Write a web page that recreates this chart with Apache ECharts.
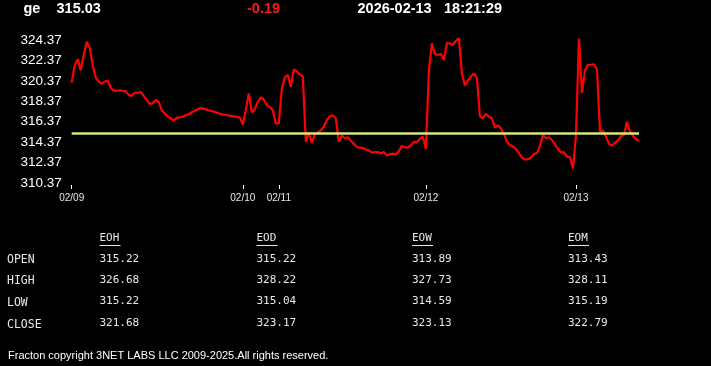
<!DOCTYPE html>
<html><head><meta charset="utf-8">
<script src="https://cdn.jsdelivr.net/npm/echarts@6/dist/echarts.min.js"></script>
<style>html,body{margin:0;padding:0;background:#000;}#c{width:711px;height:366px;}</style>
</head><body><div id="c"></div>
<script>
const symbol = 'ge';
const lastPrice = '315.03';
const change = '-0.19';
const dateStr = '2026-02-13';
const timeStr = '18:21:29';
const prevClose = 315.22;

const prices = [
320.2,321.9,322.5,321.4,322.9,324.2,323.6,321.9,320.7,320.3,
320.1,320.3,320.4,319.7,319.4,319.4,319.45,319.4,319.35,319.0,
318.9,319.2,319.2,319.3,318.9,318.5,318.1,318.2,318.5,318.3,
317.5,317.2,316.85,316.7,316.5,316.75,316.8,316.85,317.0,317.1,
317.3,317.45,317.6,317.7,317.65,317.55,317.45,317.4,317.3,317.2,
317.1,317.05,317.0,316.95,316.9,316.85,316.8,316.1,317.5,319.15,
317.3,317.6,318.3,318.75,318.55,318.0,317.8,317.5,316.2,316.2,
319.6,320.7,320.95,319.8,321.5,321.3,321.0,320.8,314.4,315.3,
314.3,315.15,315.35,315.5,315.9,316.54,316.9,317.0,316.7,314.4,
315.0,314.75,314.85,314.5,314.2,313.9,313.8,313.8,313.65,313.55,
313.35,313.4,313.4,313.25,313.4,313.05,313.2,313.25,313.15,313.5,
314.0,313.85,313.85,314.05,314.4,314.35,314.7,314.9,313.7,321.4,
324.05,323.0,322.9,323.0,322.4,324.1,324.0,323.9,324.3,324.55,
321.1,319.9,320.4,320.8,321.1,320.65,316.9,316.7,317.15,316.85,
316.7,315.8,316.0,315.7,315.2,314.4,314.1,313.95,313.7,313.3,
312.85,312.65,312.7,312.85,313.2,313.3,314.0,315.07,314.75,314.85,
314.58,314.15,313.7,313.35,313.4,312.95,312.9,311.8,315.0,324.5,
319.2,321.4,321.95,321.95,322.0,321.5,315.4,315.5,314.9,314.2,
314.05,314.3,314.55,314.95,315.1,316.37,315.4,315.0,314.65,314.5
];
const tickIndex = [0, 57, 69, 118, 168];
const tickLabels = ['02/09', '02/10', '02/11', '02/12', '02/13'];
const yTicks = [310.37, 312.37, 314.37, 316.37, 318.37, 320.37, 322.37, 324.37];

const tableCols = ['EOH', 'EOD', 'EOW', 'EOM'];
const rowLabels = ['OPEN', 'HIGH', 'LOW', 'CLOSE'];
const eohValues = [315.22, 326.68, 315.22, 321.68];
const eodValues = [315.22, 328.22, 315.04, 323.17];
const eowValues = [313.89, 327.73, 314.59, 323.13];
const eomValues = [313.43, 328.11, 315.19, 322.79];
const footerText = 'Fracton copyright 3NET LABS LLC 2009-2025.All rights reserved.';

const chart = echarts.init(document.getElementById('c'), null, {renderer: 'canvas'});
const showTick = (idx) => tickIndex.indexOf(idx) >= 0;

const headFont = 'bold 14.5px "Liberation Sans", Arial, sans-serif';
const monoFont = '11px "DejaVu Sans Mono", monospace';
const labelFont = '11.5px "DejaVu Sans Mono", monospace';
const graphics = [
  {type:'text', x:23.5, y:9, style:{text:symbol, fill:'#fff', font:headFont, verticalAlign:'middle'}},
  {type:'text', x:56.5, y:9, style:{text:lastPrice, fill:'#fff', font:headFont, verticalAlign:'middle'}},
  {type:'text', x:247, y:9, style:{text:change, fill:'#ff1a1a', font:headFont, verticalAlign:'middle'}},
  {type:'text', x:357.5, y:9, style:{text:dateStr, fill:'#fff', font:headFont, verticalAlign:'middle'}},
  {type:'text', x:444, y:9, style:{text:timeStr, fill:'#fff', font:headFont, verticalAlign:'middle'}},
  {type:'text', x:8, y:355.5, style:{text:footerText, fill:'#fff', font:'11px "Liberation Sans", Arial, sans-serif', verticalAlign:'middle'}}
];
const colX = [99.5, 256.5, 412, 568];
const rowY = [260.5, 281.5, 303, 325];
const allVals = [eohValues, eodValues, eowValues, eomValues];
tableCols.forEach((c, ci) => {
  graphics.push({type:'text', x:colX[ci], y:238.5, style:{text:c, fill:'#e8e8e8', font:monoFont, verticalAlign:'middle'}});
  graphics.push({type:'line', shape:{x1:colX[ci], y1:245.5, x2:colX[ci]+21, y2:245.5}, style:{stroke:'#e8e8e8', lineWidth:1}});
  allVals[ci].forEach((v, ri) => {
    graphics.push({type:'text', x:colX[ci], y:rowY[ri]-1.5, style:{text:v.toFixed(2), fill:'#e8e8e8', font:monoFont, verticalAlign:'middle'}});
  });
});
rowLabels.forEach((r, ri) => {
  graphics.push({type:'text', x:7, y:rowY[ri], style:{text:r, fill:'#e8e8e8', font:labelFont, verticalAlign:'middle'}});
});

chart.setOption({
  backgroundColor: '#000',
  animation: false,
  grid: {left: 71.7, right: 72, top: 29.8, bottom: 183, containLabel: false},
  xAxis: {
    type: 'category',
    data: prices.map((_, i) => String(i)),
    boundaryGap: false,
    offset: 2,
    axisLine: {show: false},
    axisTick: {show: true, length: 4, interval: showTick, lineStyle: {color: '#fff', width: 1}},
    axisLabel: {
      interval: showTick,
      formatter: (v, idx) => { const k = tickIndex.indexOf(idx); return k >= 0 ? tickLabels[k] : ''; },
      color: '#e6e6e6', fontSize: 10, fontFamily: '"Liberation Sans", Arial, sans-serif', margin: 8
    },
    splitLine: {show: false}
  },
  yAxis: {
    type: 'value',
    min: 310.37,
    max: 325.37,
    splitLine: {show: false},
    axisLine: {show: false},
    axisTick: {show: false},
    axisLabel: {
      customValues: yTicks,
      formatter: (v) => Number(v).toFixed(2),
      color: '#fff', fontSize: 13.5, fontFamily: '"Liberation Sans", Arial, sans-serif', margin: 10
    }
  },
  series: [{
    type: 'line',
    data: prices,
    showSymbol: false,
    symbol: 'none',
    lineStyle: {color: '#ff0000', width: 2.2},
    z: 2,
    markLine: {
      silent: true,
      symbol: ['none', 'none'],
      label: {show: false},
      lineStyle: {color: '#d6e77c', width: 2.5, type: 'solid'},
      data: [{yAxis: prevClose}]
    }
  }],
  graphic: graphics
});
</script></body></html>
